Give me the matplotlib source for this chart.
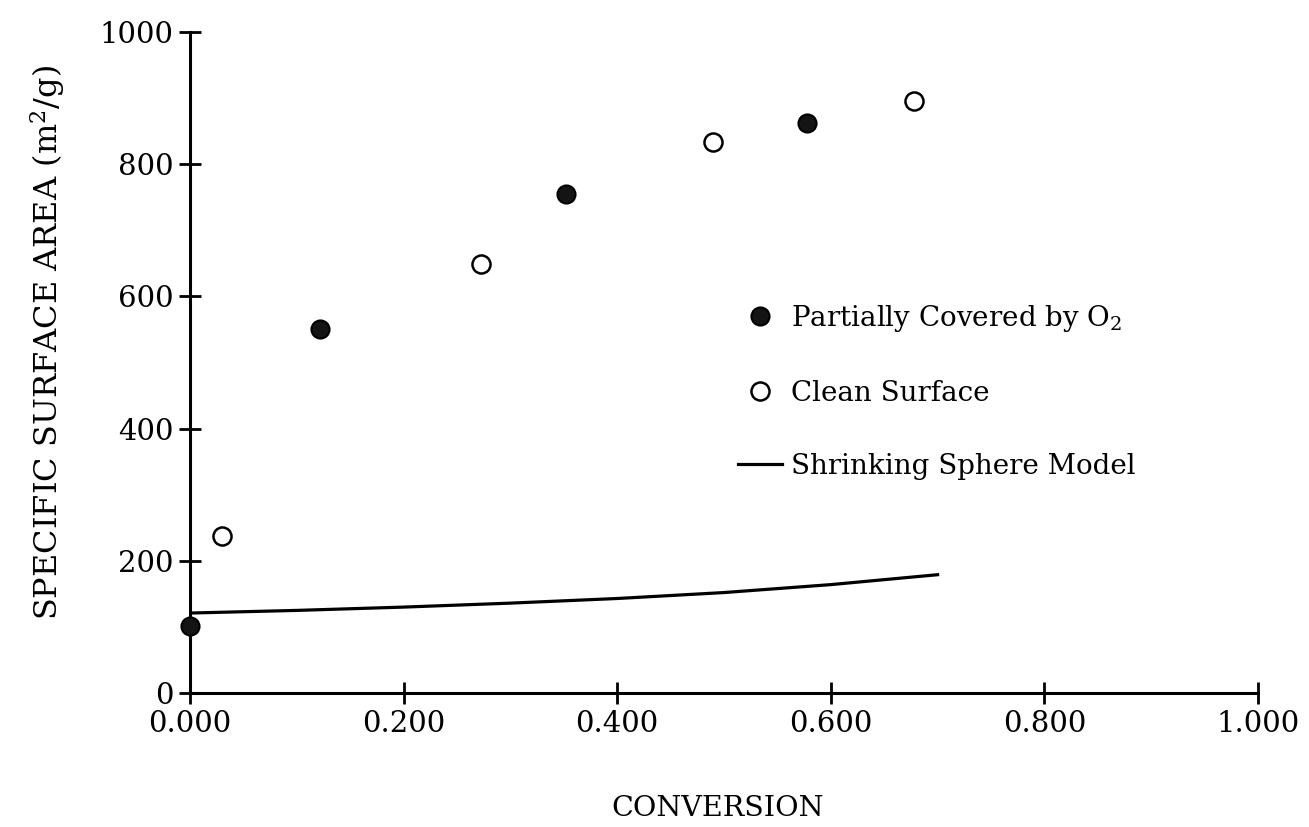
import numpy as np
import matplotlib
matplotlib.use("Agg")
import matplotlib.pyplot as plt

# data
x_covered = [0.000, 0.122, 0.352, 0.578]
y_covered = [102, 551, 755, 863]

x_clean = [0.030, 0.272, 0.490, 0.678]
y_clean = [237, 649, 834, 896]

x_model = [0.0, 0.1, 0.2, 0.3, 0.4, 0.5, 0.6, 0.7]
y_model = [121, 125, 130, 136, 143, 152, 164, 179]

x_ticks = [0.0, 0.2, 0.4, 0.6, 0.8, 1.0]
x_ticklabels = ["0.000", "0.200", "0.400", "0.600", "0.800", "1.000"]
y_ticks = [0, 200, 400, 600, 800, 1000]

plt.rcParams["font.family"] = ["DejaVu Serif"]
plt.rcParams["mathtext.fontset"] = "dejavuserif"

fig = plt.figure(figsize=(13.09, 8.27), dpi=100)
ax = fig.add_axes([0.1452, 0.162, 0.8158, 0.7993])

ax.plot(x_model, y_model, color="black", lw=2.3, label="Shrinking Sphere Model", zorder=2)
ax.plot(x_covered, y_covered, "o", ms=13, mfc="#141414", mec="black", mew=1.5,
        label="Partially Covered by O$_2$", zorder=4, clip_on=False)
ax.plot(x_clean, y_clean, "o", ms=13, mfc="white", mec="black", mew=1.8,
        label="Clean Surface", zorder=4, clip_on=False)

ax.set_xlim(0, 1.0)
ax.set_ylim(0, 1000)
ax.set_xticks(x_ticks)
ax.set_xticklabels(x_ticklabels)
ax.set_yticks(y_ticks)

for s in ["top", "right"]:
    ax.spines[s].set_visible(False)
for s in ["left", "bottom"]:
    ax.spines[s].set_linewidth(2.2)

ax.tick_params(direction="inout", length=16, width=2, labelsize=21, pad=4)

ax.set_xlabel("CONVERSION", fontsize=20.5, va="top")
ax.xaxis.set_label_coords(0.494, -0.154)
ax.set_ylabel("SPECIFIC SURFACE AREA (m$^2$/g)", fontsize=23)
ax.yaxis.set_label_coords(-0.115, 0.53)

handles, labels = ax.get_legend_handles_labels()
order = [1, 2, 0]
leg = ax.legend([handles[i] for i in order], [labels[i] for i in order],
                loc="upper left", bbox_to_anchor=(0.513, 0.59), frameon=False,
                fontsize=20, labelspacing=1.65, handlelength=1.6, handletextpad=0.3,
                borderaxespad=0, borderpad=0)

fig.savefig("out.png", dpi=100, facecolor="white")
